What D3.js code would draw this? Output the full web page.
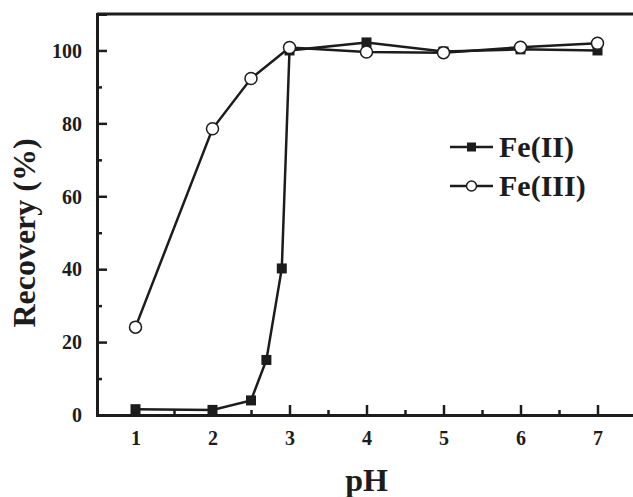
<!DOCTYPE html>
<html>
<head>
<meta charset="utf-8">
<script src="https://cdn.jsdelivr.net/npm/d3@7"></script>
<style>
  body { margin: 0; background: #fff; }
  svg { display: block; }
  text { font-family: "Liberation Serif", "Times New Roman", serif; font-weight: bold; fill: #1c1c1c; }
</style>
</head>
<body>
<div id="chart"></div>
<script>
// pH values and recoveries
const phFe2 = [1, 2, 2.5, 2.7, 2.9, 3, 4, 5, 6, 7];
const recFe2 = [1.6, 1.4, 4.0, 15.1, 40.2, 100.0, 102.2, 99.7, 100.3, 100.0];
const phFe3 = [1, 2, 2.5, 3, 4, 5, 6, 7];
const recFe3 = [24.1, 78.5, 92.3, 100.8, 99.6, 99.4, 100.9, 102.0];
const xTicks = [1, 2, 3, 4, 5, 6, 7];
const yTicks = [0, 20, 40, 60, 80, 100];
const seriesNames = ["Fe(II)", "Fe(III)"];

const W = 633, H = 497;
const margin = { top: 14, right: -3, bottom: 82, left: 97 };
const width = W - margin.left - margin.right;
const height = H - margin.top - margin.bottom;
const ink = "#1c1c1c";

const svg = d3.select("#chart").append("svg")
    .attr("width", W)
    .attr("height", H)
    .style("overflow", "hidden");

const g = svg.append("g").attr("transform", `translate(${margin.left},${margin.top})`);

const x = d3.scaleLinear().domain([0.5, 7.5]).range([0, width]);
const y = d3.scaleLinear().domain([0, 110]).range([height, 0]);

// inward ticks (major + minor)
const xMinor = d3.range(1.5, 7.5, 1);
const yMinor = d3.range(10, 110, 20);

const xAxis = g.append("g")
    .attr("transform", `translate(0,${height})`)
    .call(d3.axisBottom(x).tickValues(xTicks).tickSize(-10).tickPadding(0).tickFormat(d3.format("d")));
g.append("g")
    .attr("transform", `translate(0,${height})`)
    .call(d3.axisBottom(x).tickValues(xMinor).tickSize(-5).tickFormat(""))
    .select(".domain").remove();

const yAxis = g.append("g")
    .call(d3.axisLeft(y).tickValues(yTicks).tickSize(-10).tickPadding(0).tickFormat(d3.format("d")));
g.append("g")
    .call(d3.axisLeft(y).tickValues(yMinor).tickSize(-5).tickFormat(""))
    .select(".domain").remove();

g.selectAll(".domain").attr("stroke", ink).attr("stroke-width", 3);
g.selectAll(".tick line").attr("stroke", ink).attr("stroke-width", 2.5);

xAxis.selectAll(".tick text")
    .attr("y", 30)
    .attr("dy", 0)
    .style("font-size", "20px");
yAxis.selectAll(".tick text")
    .attr("x", -15)
    .attr("dy", "0.34em")
    .style("font-size", "20px");

// top frame line
g.append("line")
    .attr("x1", 0).attr("x2", width)
    .attr("y1", 0).attr("y2", 0)
    .attr("stroke", ink).attr("stroke-width", 3);

// axis titles
svg.append("text")
    .attr("x", margin.left + x(4))
    .attr("y", 491)
    .attr("text-anchor", "middle")
    .style("font-size", "32px")
    .text("pH");

svg.append("text")
    .attr("transform", "translate(35,233) rotate(-90)")
    .attr("text-anchor", "middle")
    .style("font-size", "32px")
    .text("Recovery (%)");

// lines
const line = d3.line().x(d => x(d[0])).y(d => y(d[1]));
const fe2 = phFe2.map((p, i) => [p, recFe2[i]]);
const fe3 = phFe3.map((p, i) => [p, recFe3[i]]);

g.append("path").datum(fe2)
    .attr("d", line).attr("fill", "none")
    .attr("stroke", ink).attr("stroke-width", 2.5);
g.append("path").datum(fe3)
    .attr("d", line).attr("fill", "none")
    .attr("stroke", ink).attr("stroke-width", 2.5);

const sq = 10;
g.selectAll(".sq").data(fe2).enter().append("rect")
    .attr("x", d => x(d[0]) - sq / 2)
    .attr("y", d => y(d[1]) - sq / 2)
    .attr("width", sq).attr("height", sq)
    .attr("fill", ink);

g.selectAll(".circ").data(fe3).enter().append("circle")
    .attr("cx", d => x(d[0]))
    .attr("cy", d => y(d[1]))
    .attr("r", 6)
    .attr("fill", "#fff")
    .attr("stroke", ink).attr("stroke-width", 1.5);

// legend
const legend = svg.append("g").attr("transform", "translate(450,147)");
seriesNames.forEach((name, i) => {
    const row = legend.append("g").attr("transform", `translate(0,${i * 39})`);
    row.append("line").attr("x1", 0).attr("x2", 43).attr("y1", 0).attr("y2", 0)
        .attr("stroke", ink).attr("stroke-width", 2.5);
    if (i === 0) {
        row.append("rect").attr("x", 17).attr("y", -4.5).attr("width", 9).attr("height", 9).attr("fill", ink);
    } else {
        row.append("circle").attr("cx", 21.5).attr("cy", 0).attr("r", 5)
            .attr("fill", "#fff").attr("stroke", ink).attr("stroke-width", 1.5);
    }
    row.append("text").attr("x", 49).attr("y", 10)
        .style("font-size", "30px")
        .text(name);
});
</script>
</body>
</html>
